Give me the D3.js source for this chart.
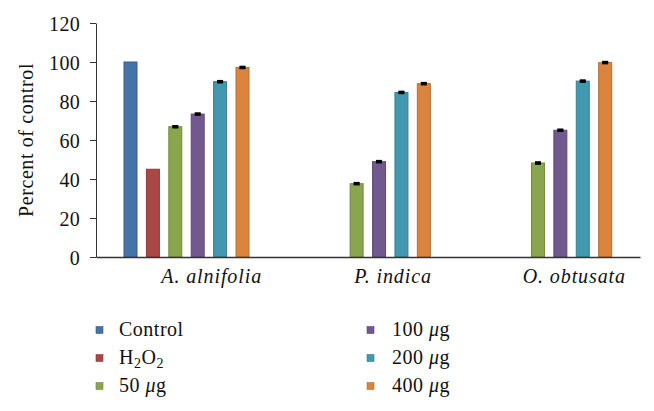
<!DOCTYPE html>
<html><head><meta charset="utf-8">
<script src="https://cdn.jsdelivr.net/npm/d3@7"></script>
<style>body{margin:0;background:#fff}svg{display:block}text{font-family:"Liberation Serif","Times New Roman",serif;fill:#111}</style>
</head><body><svg id="c" width="654" height="411"></svg>
<script>
const categories = ["A. alnifolia", "P. indica", "O. obtusata"];
const seriesNames = ["Control", "H2O2", "50 μg", "100 μg", "200 μg", "400 μg"];
const seriesColors = ["#4572A7", "#AA4643", "#89A54E", "#71588F", "#4198AF", "#DB843D"];
const control = [100, null, null];
const h2o2 = [45, null, null];
const ug50 = [66.8, 37.6, 48.2];
const ug100 = [73.3, 48.9, 65.0];
const ug200 = [89.9, 84.4, 90.2];
const ug400 = [97.2, 88.9, 99.7];
const errors = [0, 0, 0.6, 0.6, 0.6, 0.6];
const yTicks = [0, 20, 40, 60, 80, 100, 120];

const values = [control, h2o2, ug50, ug100, ug200, ug400];
const svg = d3.select("#c");
const x0 = d3.scaleBand().domain(categories).range([96, 640]);
const x1 = d3.scaleBand().domain(seriesNames).range([28, 153]).paddingInner(0.42);
const y = d3.scaleLinear().domain([0, 120]).range([257, 23]);

const data = [];
values.forEach((arr, si) => arr.forEach((v, ci) => { if (v != null) data.push({s: si, c: ci, v}); }));
svg.append("g").selectAll("rect").data(data).join("rect")
  .attr("x", d => x0(categories[d.c]) + x1(seriesNames[d.s]))
  .attr("y", d => y(d.v))
  .attr("width", x1.bandwidth())
  .attr("height", d => y(0) - y(d.v))
  .attr("fill", d => seriesColors[d.s])
  .attr("stroke", d => d3.color(seriesColors[d.s]).darker(0.5))
  .attr("stroke-width", 1);

const eb = svg.append("g").attr("stroke", "#000").attr("stroke-width", 1.2);
data.filter(d => errors[d.s] > 0).forEach(d => {
  const cx = x0(categories[d.c]) + x1(seriesNames[d.s]) + x1.bandwidth() / 2;
  const e = errors[d.s];
  eb.append("line").attr("x1", cx).attr("x2", cx).attr("y1", y(d.v + e)).attr("y2", y(d.v - e));
  eb.append("line").attr("x1", cx - 3).attr("x2", cx + 3).attr("y1", y(d.v + e)).attr("y2", y(d.v + e));
  eb.append("line").attr("x1", cx - 3).attr("x2", cx + 3).attr("y1", y(d.v - e)).attr("y2", y(d.v - e));
  eb.append("rect").attr("x", cx - 3).attr("y", y(d.v + e)).attr("width", 6).attr("height", y(d.v - e) - y(d.v + e)).attr("fill", "#000").attr("stroke", "none");
});

const ya = svg.append("g").attr("transform", "translate(96,0)")
  .call(d3.axisLeft(y).tickValues(yTicks).tickSize(6).tickSizeOuter(0).tickPadding(10));
ya.select(".domain").attr("stroke", "#333");
ya.selectAll(".tick line").attr("stroke", "#333");
ya.selectAll("text").style("font-family", '"Liberation Serif",serif').style("font-size", "20px").style("letter-spacing", "0.3px").attr("fill", "#111").attr("dy", "0.35em");

const xa = svg.append("g").attr("transform", "translate(0,257)")
  .call(d3.axisBottom(x0).tickSize(0).tickPadding(20));
xa.select(".domain").attr("stroke", "#333").attr("stroke-width", 1.5);
xa.selectAll("text").style("font-family", '"Liberation Serif",serif').style("font-size", "20px")
  .style("font-style", "italic").style("letter-spacing", "0.9px").attr("fill", "#111")
  .attr("dx", 25).attr("dy", "0.3em");

svg.append("text").attr("transform", "translate(33,140) rotate(-90)")
  .attr("text-anchor", "middle").style("font-size", "20px").style("letter-spacing", "0.6px")
  .text("Percent of control");

const leg = svg.append("g");
seriesNames.forEach((name, i) => {
  const col = Math.floor(i / 3), row = i % 3;
  const mx = col === 0 ? 96 : 367;
  const tx = col === 0 ? 119 : 392;
  const cy = 330 + row * 28;
  leg.append("rect").attr("x", mx).attr("y", cy - 3.5).attr("width", 7).attr("height", 7)
    .attr("fill", seriesColors[i]).attr("stroke", d3.color(seriesColors[i]).darker(0.5)).attr("stroke-width", 0.6);
  const t = leg.append("text").attr("x", tx).attr("y", cy + 6).style("font-size", "20px").style("letter-spacing", "0.5px");
  if (name === "H2O2") {
    t.append("tspan").text("H");
    t.append("tspan").text("2").style("font-size", "14px").attr("dy", 4);
    t.append("tspan").text("O").attr("dy", -4);
    t.append("tspan").text("2").style("font-size", "14px").attr("dy", 4);
  } else if (name.includes("μ")) {
    const parts = name.split(" ");
    t.append("tspan").text(parts[0] + " ");
    t.append("tspan").text("μ").style("font-style", "italic");
    t.append("tspan").text("g");
  } else {
    t.text(name);
  }
});
</script></body></html>
